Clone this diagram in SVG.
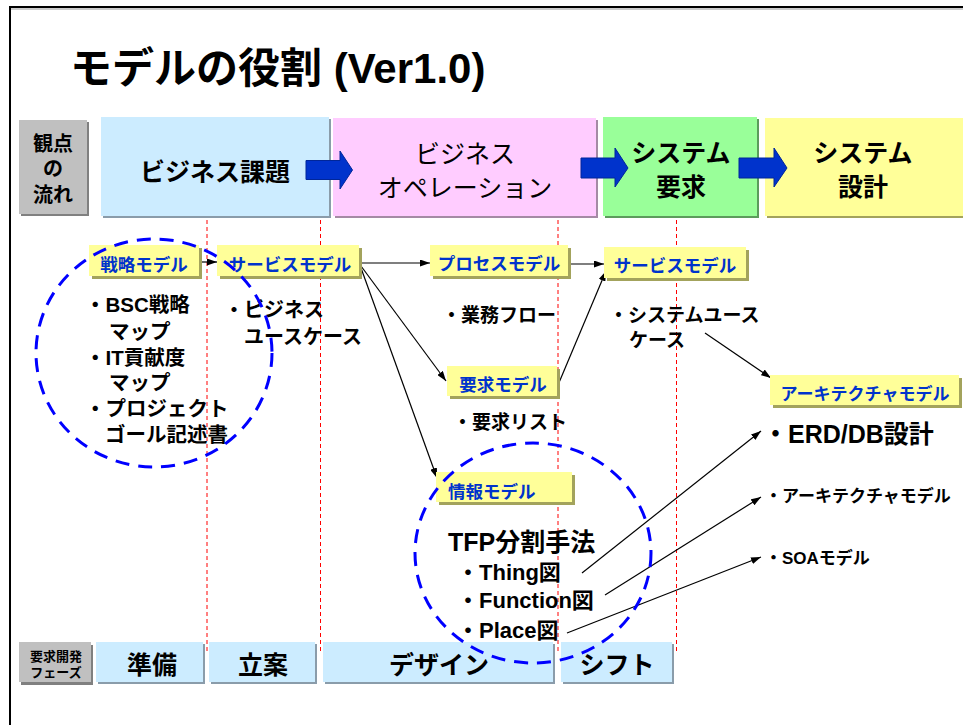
<svg xmlns="http://www.w3.org/2000/svg" width="963" height="725" viewBox="0 0 963 725">
<defs>
<style>
text{font-family:"Liberation Sans","Noto Sans CJK JP",sans-serif;font-weight:bold;fill:#000}
.hd{font-size:25px;text-anchor:middle}
.nm{font-weight:normal}
.lbl{font-size:17.5px;fill:#0033CC;text-anchor:middle}
.t19{font-size:19px}
.t20{font-size:20.5px}
.t22{font-size:22px}
.t17{font-size:17px}
.ybox{fill:#FFFF99}
.ysh{fill:#A3A35C}
.bbox{fill:#CCECFF}
.bsh{fill:#8A9CAA}
.red{stroke:#FF0000;stroke-width:1;stroke-dasharray:4 3;fill:none}
.circ{fill:none;stroke:#0000FF;stroke-width:3;stroke-dasharray:14 9}
.con{stroke:#000;stroke-width:1.2;fill:none;marker-end:url(#ah)}
.barrow{fill:#0033CC;stroke:#002699;stroke-width:1}
</style>
<marker id="ah" viewBox="0 0 10 7" refX="10" refY="3.5" markerWidth="10" markerHeight="7" markerUnits="userSpaceOnUse" orient="auto">
<path d="M0,0 L10,3.5 L0,7 z" fill="#000"/>
</marker>
</defs>
<rect width="963" height="725" fill="#fff"/>
<rect x="10" y="7" width="1000" height="800" fill="none" stroke="#000" stroke-width="2"/>
<line x1="11" y1="9" x2="963" y2="9" stroke="#999" stroke-width="1"/>

<text id="title" x="70" y="83" style="font-size:42px">モデルの役割 (Ver1.0)</text>

<g id="header">
<g id="h-kanten">
<rect x="21" y="122" width="68" height="94" fill="#808080"/>
<rect x="19" y="120" width="68" height="94" fill="#C0C0C0"/>
<text x="53" y="151" style="font-size:20px;text-anchor:middle">観点</text>
<text x="53" y="176" style="font-size:20px;text-anchor:middle">の</text>
<text x="53" y="202" style="font-size:20px;text-anchor:middle">流れ</text>
</g>
<g id="h-kadai">
<rect x="103" y="119" width="228" height="99" class="bsh"/>
<rect x="101" y="117" width="228" height="99" class="bbox"/>
<text x="215" y="181" class="hd">ビジネス課題</text>
</g>
<g id="h-ope">
<rect x="335" y="120" width="263" height="98" fill="#A58AA5"/>
<rect x="333" y="118" width="263" height="98" fill="#FFCCFF"/>
<text x="465" y="163" class="hd nm">ビジネス</text>
<text x="465" y="197" class="hd nm">オペレーション</text>
</g>
<g id="h-sysreq">
<rect x="605" y="119" width="154" height="99" fill="#5C9C5C"/>
<rect x="603" y="117" width="154" height="99" fill="#99FF99"/>
<text x="681" y="162" class="hd">システム</text>
<text x="681" y="196" class="hd">要求</text>
</g>
<g id="h-sysdes">
<rect x="767" y="120" width="210" height="98" fill="#A3A35C"/>
<rect x="765" y="118" width="210" height="98" fill="#FFFF99"/>
<text x="863" y="162" class="hd">システム</text>
<text x="863" y="196" class="hd">設計</text>
</g>
<g id="h-arrows">
<path class="barrow" d="M306 160.5 L340 160.5 L340 151 L352.5 170 L340 189 L340 179.5 L306 179.5 Z"/>
<path class="barrow" d="M581 158 L615 158 L615 148 L628 168 L615 187 L615 178 L581 178 Z"/>
<path class="barrow" d="M739 158 L774 158 L774 148 L787 168 L774 187 L774 178 L739 178 Z"/>
</g>
</g>

<g id="phase-lines">
<line class="red" x1="207" y1="220" x2="207" y2="652"/>
<line class="red" x1="320.5" y1="220" x2="320.5" y2="652"/>
<line class="red" x1="558" y1="220" x2="558" y2="652"/>
<line class="red" x1="676.5" y1="220" x2="676.5" y2="652"/>
</g>

<g id="bottom-row">
<g id="b-phase">
<rect x="21" y="645" width="72" height="40" fill="#808080"/>
<rect x="19" y="642" width="72" height="40" fill="#C0C0C0"/>
<text x="56" y="661" style="font-size:13px;text-anchor:middle">要求開発</text>
<text x="56" y="677" style="font-size:13px;text-anchor:middle">フェーズ</text>
</g>
<g id="b-junbi">
<rect x="98" y="644" width="107" height="40" class="bsh"/>
<rect x="96" y="642" width="107" height="40" class="bbox"/>
<text x="152" y="674" class="hd">準備</text>
</g>
<g id="b-rian">
<rect x="211" y="644" width="106" height="40" class="bsh"/>
<rect x="209" y="642" width="106" height="40" class="bbox"/>
<text x="263" y="674" class="hd">立案</text>
</g>
<g id="b-design">
<rect x="325" y="644" width="230" height="40" class="bsh"/>
<rect x="323" y="642" width="230" height="40" class="bbox"/>
<text x="439" y="674" class="hd">デザイン</text>
</g>
<g id="b-shift">
<rect x="563" y="644" width="111" height="40" class="bsh"/>
<rect x="561" y="642" width="111" height="40" class="bbox"/>
<text x="617" y="674" class="hd">シフト</text>
</g>
</g>

<g id="connectors">
<line class="con" x1="199" y1="262" x2="217" y2="262"/>
<line class="con" x1="360" y1="263" x2="430" y2="263"/>
<line class="con" x1="361" y1="266" x2="446" y2="381"/>
<line class="con" x1="361" y1="268" x2="437" y2="478"/>
<line class="con" x1="568" y1="264" x2="604" y2="264"/>
<line class="con" x1="558" y1="385" x2="606" y2="271"/>
<line class="con" x1="705" y1="333" x2="771" y2="378"/>
<line class="con" x1="582" y1="573" x2="761" y2="431"/>
<line class="con" x1="605" y1="595" x2="761" y2="497"/>
<line class="con" x1="567" y1="633" x2="761" y2="557"/>
</g>

<g id="n-senryaku">
<rect x="92" y="248" width="110" height="31" class="ysh"/>
<rect x="89" y="245" width="110" height="31" class="ybox"/>
<text x="144" y="271" class="lbl">戦略モデル</text>
</g>
<g id="n-service1">
<rect x="220" y="248" width="142" height="31" class="ysh"/>
<rect x="217" y="245" width="142" height="31" class="ybox"/>
<text x="290" y="271" class="lbl">サービスモデル</text>
</g>
<g id="n-process">
<rect x="433" y="248" width="138" height="31" class="ysh"/>
<rect x="430" y="245" width="138" height="31" class="ybox"/>
<text x="499" y="270" class="lbl">プロセスモデル</text>
</g>
<g id="n-service2">
<rect x="607" y="250" width="142" height="31" class="ysh"/>
<rect x="604" y="247" width="142" height="31" class="ybox"/>
<text x="675" y="272" class="lbl">サービスモデル</text>
</g>
<g id="n-youkyu">
<rect x="450" y="369" width="110" height="30" class="ysh"/>
<rect x="447" y="366" width="110" height="30" class="ybox"/>
<text x="503" y="391" class="lbl">要求モデル</text>
</g>
<g id="n-jouhou">
<rect x="439" y="475" width="136" height="30" class="ysh"/>
<rect x="436" y="472" width="136" height="30" class="ybox"/>
<text x="448" y="498" class="lbl" style="text-anchor:start">情報モデル</text>
</g>
<g id="n-arch">
<rect x="773" y="378" width="189" height="30" class="ysh"/>
<rect x="770" y="375" width="189" height="30" class="ybox"/>
<text x="865" y="400" class="lbl" style="font-size:17px">アーキテクチャモデル</text>
</g>

<g id="texts">
<text class="t20" x="85" y="312">・BSC戦略</text>
<text class="t20" x="109" y="338.5">マップ</text>
<text class="t20" x="85" y="364.5">・IT貢献度</text>
<text class="t20" x="109" y="390">マップ</text>
<text class="t20" x="85" y="416">・プロジェクト</text>
<text class="t20" x="105" y="441.5">ゴール記述書</text>
<text class="t19" x="224" y="317" style="font-size:20px">・ビジネス</text>
<text class="t19" x="244" y="344" style="font-size:20px">ユースケース</text>
<text class="t19" x="442" y="322">・業務フロー</text>
<text class="t19" x="453" y="429">・要求リスト</text>
<text class="t19" x="609" y="322">・システムユース</text>
<text class="t19" x="629" y="347">ケース</text>
<text x="763" y="443" style="font-size:25px">・ERD/DB設計</text>
<text class="t17" x="765" y="501.5">・アーキテクチャモデル</text>
<text class="t17" x="765" y="563.5">・SOAモデル</text>
<text x="448" y="551" style="font-size:25px">TFP分割手法</text>
<text class="t22" x="457" y="580">・Thing図</text>
<text class="t22" x="457" y="608">・Function図</text>
<text class="t22" x="457" y="638">・Place図</text>
</g>

<g id="circles">
<ellipse class="circ" cx="154" cy="353" rx="118" ry="114"/>
<ellipse class="circ" cx="533" cy="553" rx="118" ry="110"/>
</g>
</svg>
